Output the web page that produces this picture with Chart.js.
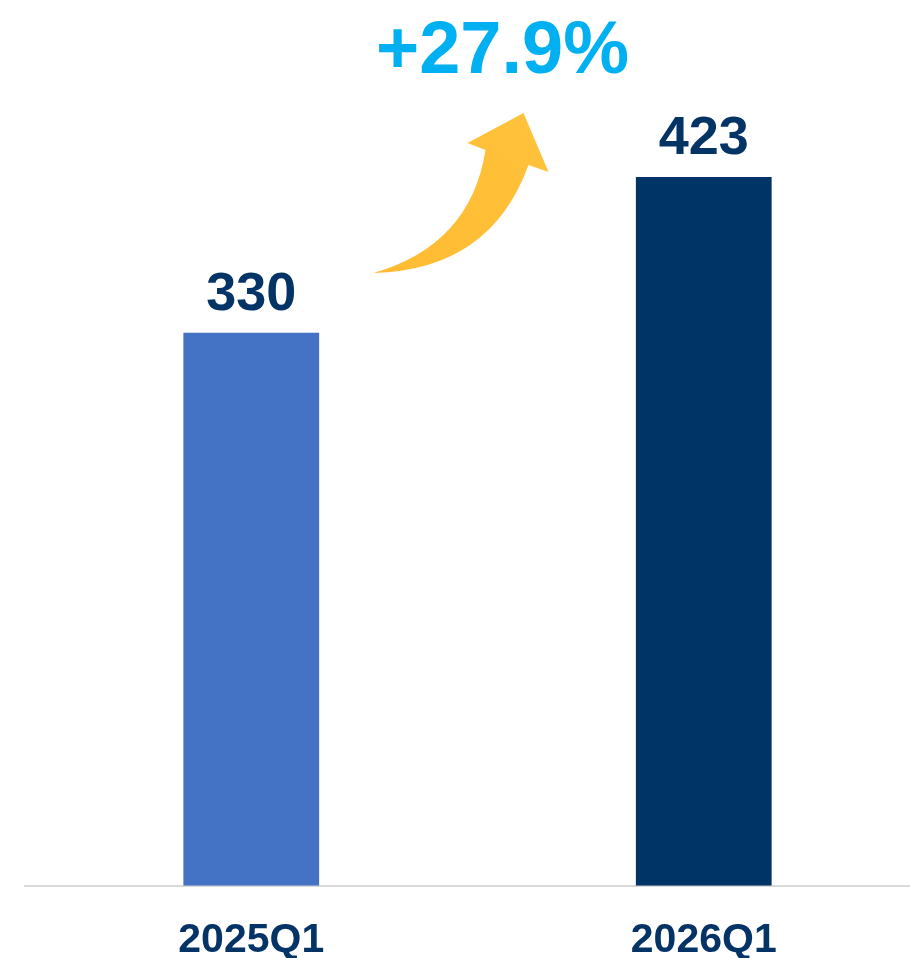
<!DOCTYPE html>
<html>
<head>
<meta charset="utf-8">
<script src="https://cdn.jsdelivr.net/npm/chart.js@4.4.1/dist/chart.umd.min.js"></script>
<style>
  html, body { margin: 0; padding: 0; background: #fff; overflow: hidden; }
  #wrap { width: 930px; height: 958px; position: relative; }
</style>
</head>
<body>
<div id="wrap"><canvas id="chart-bar"></canvas></div>
<script>
// data
var categories = ["2025Q1", "2026Q1"];
var values = [330, 423];
var barColors = ["#4472C4", "#003366"];
var growthLabel = "+27.9%";

var navy = "#043466";

// value labels above bars + growth arrow
var annotate = {
    id: 'annotate',
    afterDatasetsDraw: function(chart) {
        var ctx = chart.ctx;
        var meta = chart.getDatasetMeta(0);
        ctx.save();
        ctx.fillStyle = navy;
        ctx.font = "bold 54px 'Liberation Sans', Arial, sans-serif";
        ctx.textAlign = 'center';
        ctx.textBaseline = 'alphabetic';
        meta.data.forEach(function(bar, i) {
            ctx.fillText(values[i], bar.x, bar.y - 23);
        });

        // arrow between the bars
        var xs = chart.scales.x, ys = chart.scales.y;
        var ax = (xs.getPixelForValue(0) + xs.getPixelForValue(1)) / 2;
        var ay = ys.getPixelForValue(values[1]);
        function p(dx, dy) { return [ax + dx, ay + dy]; }
        var tail = p(-104, 96), lc = p(-7, 68), ln = p(8, -27), lb = p(-10, -34),
            tip = p(46, -64), rb = p(71, -5), rn = p(51, -12), rc = p(13, 93);
        var grad = ctx.createLinearGradient(tail[0], tail[1], tip[0], tip[1]);
        grad.addColorStop(0, "#FFBB33");
        grad.addColorStop(1, "#FFC23A");
        ctx.fillStyle = grad;
        ctx.beginPath();
        ctx.moveTo(tail[0], tail[1]);
        ctx.quadraticCurveTo(lc[0], lc[1], ln[0], ln[1]);
        ctx.lineTo(lb[0], lb[1]);
        ctx.lineTo(tip[0], tip[1]);
        ctx.lineTo(rb[0], rb[1]);
        ctx.lineTo(rn[0], rn[1]);
        ctx.quadraticCurveTo(rc[0], rc[1], tail[0], tail[1]);
        ctx.closePath();
        ctx.fill();

        ctx.fillStyle = "#00B0F0";
        ctx.font = "bold 74px 'Liberation Sans', Arial, sans-serif";
        ctx.fillText(growthLabel, ax + 25, ay - 104);
        ctx.restore();
    }
};

var ctx = document.getElementById('chart-bar');
var myChart = new Chart(ctx, {
    type: 'bar',
    data: {
        labels: categories,
        datasets: [{
            data: values,
            backgroundColor: barColors,
            borderWidth: 0,
            categoryPercentage: 1,
            barPercentage: 0.3
        }]
    },
    options: {
        responsive: true,
        maintainAspectRatio: false,
        animation: false,
        layout: { padding: { left: 25, right: 0, top: 48, bottom: -37 } },
        plugins: { legend: { display: false }, tooltip: { enabled: false } },
        scales: {
            y: { display: false, min: 0, max: 500 },
            x: {
                grid: { display: false, drawTicks: false },
                border: { display: true, color: "#D9D9D9", width: 2 },
                ticks: {
                    color: navy,
                    padding: 30,
                    font: { family: "'Liberation Sans', Arial, sans-serif", size: 41, weight: 'bold' }
                }
            }
        }
    },
    plugins: [annotate]
});
</script>
</body>
</html>
